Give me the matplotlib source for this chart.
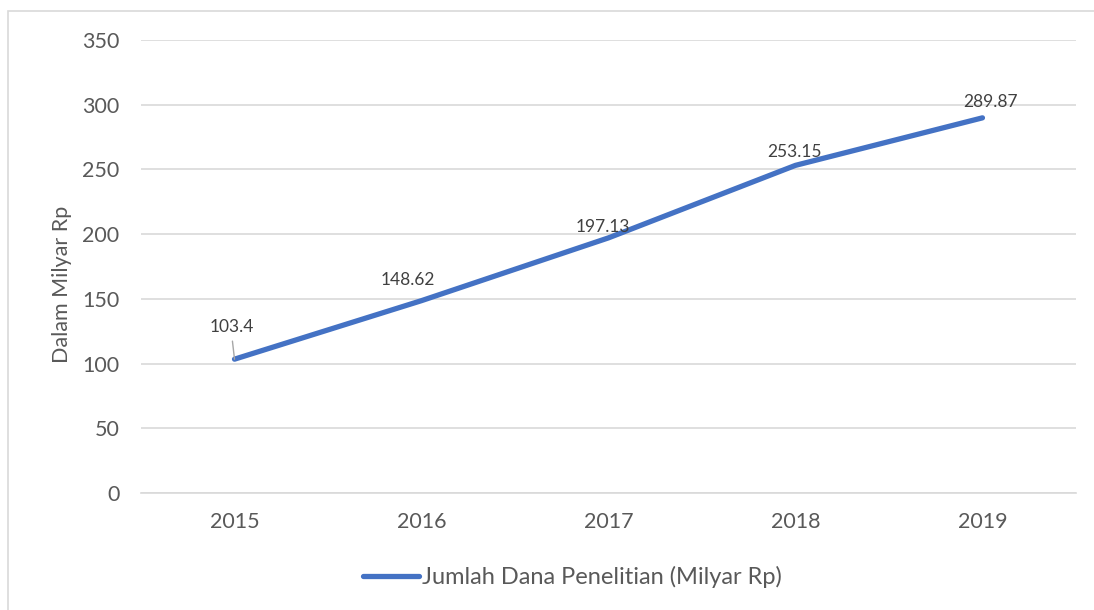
import matplotlib.pyplot as plt
from matplotlib.patches import Rectangle

years = ['2015', '2016', '2017', '2018', '2019']
dana = [103.4, 148.62, 197.13, 253.15, 289.87]
labels = ['103.4', '148.62', '197.13', '253.15', '289.87']
yticks = [0, 50, 100, 150, 200, 250, 300, 350]

plt.rcParams['font.family'] = ['Lato', 'DejaVu Sans']

fig = plt.figure(figsize=(10.94, 6.10), dpi=100)
ax = fig.add_axes([0.1289, 0.1918, 0.8546, 0.7426])

# outer chart border (cut off at right and bottom like the source)
fig.patches.append(Rectangle((8 / 1094, -0.05), 1.5, 1 - 11 / 610 + 0.05,
                             transform=fig.transFigure, fill=False,
                             edgecolor='#D9D9D9', linewidth=1.2))

x = list(range(len(years)))
ax.plot(x, dana, color='#4472C4', linewidth=3.8, solid_capstyle='round',
        label='Jumlah Dana Penelitian (Milyar Rp)', zorder=3)

# data labels (offsets in points, baseline anchored)
offs = [(-2, 19.5), (-10, 11), (-4.3, 4.3), (-0.7, 5.8), (5.8, 8)]
for i, (v, t) in enumerate(zip(dana, labels)):
    ax.annotate(t, (x[i], v), xytext=offs[i], textcoords='offset points',
                ha='center', va='baseline', fontsize=12.5, color='#404040')
# leader line for first label
ax.annotate('', (x[0], dana[0]), xytext=(-1.5, 13), textcoords='offset points',
            arrowprops=dict(arrowstyle='-', color='#A6A6A6', lw=1,
                            shrinkA=0, shrinkB=0))

ax.set_xlim(-0.5, 4.5)
ax.set_ylim(0, 350)
ax.set_yticks(yticks)
ax.set_xticks(x)
ax.set_xticklabels(years)
ax.grid(axis='y', color='#D9D9D9', linewidth=1.2)
ax.set_axisbelow(True)
for s in ['top', 'right', 'left']:
    ax.spines[s].set_visible(False)
ax.spines['bottom'].set_color('#D9D9D9')
ax.spines['bottom'].set_linewidth(1.2)
ax.tick_params(length=0, labelsize=15.5, colors='#595959', pad=14)
ax.tick_params(axis='y', pad=15.5)
ax.set_ylabel('Dalam Milyar Rp', fontsize=15.5, color='#595959')
ax.yaxis.set_label_coords(-0.074, 0.46)

fig.legend(loc='center', bbox_to_anchor=(0.523, 1 - 577 / 610), frameon=False,
           fontsize=17, labelcolor='#595959', handlelength=2.4,
           handletextpad=0.1)

fig.savefig('out.png', dpi=100)
